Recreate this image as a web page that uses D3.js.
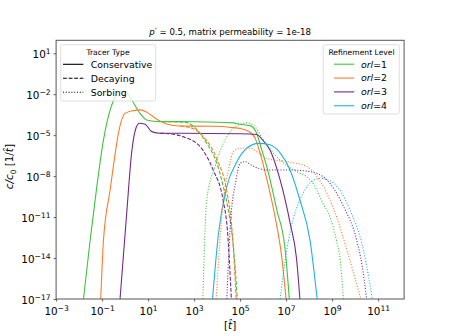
<!DOCTYPE html>
<html>
<head>
<meta charset="utf-8">
<script src="https://cdn.jsdelivr.net/npm/d3@7"></script>
<style>
  body { margin: 0; background: #fff; }
  svg, svg text { font-family: "DejaVu Sans", sans-serif; }
</style>
</head>
<body>
<div id="chart"></div>
<script>
// values, as [log10 t, log10 c/c0]
var greenCons = [[-1.81,-17],[-1.52,-12.7],[-1.23,-8.77],[-0.94,-5.35],[-0.65,-3.15],[-0.43,-2.18],[-0.29,-1.81],[0,-1.81],[0.29,-2.42],[0.65,-3.4],[0.94,-3.89],[1.38,-4.0],[3.0,-4.02],[4.7,-4.1],[5.0,-4.2],[5.43,-4.3],[5.72,-4.86],[5.94,-6.08],[6.16,-7.3],[6.6,-10.5],[6.96,-13.4],[7.14,-17]];
var orangeCons = [[-1.06,-17],[-0.94,-12.7],[-0.65,-9.0],[-0.43,-6.33],[-0.29,-4.86],[0,-3.4],[0.36,-3.2],[0.65,-3.15],[0.94,-3.32],[1.38,-3.83],[1.81,-4.18],[2.39,-4.33],[4.0,-4.35],[4.7,-4.45],[5.0,-4.5],[5.4,-4.75],[5.65,-5.2],[5.9,-6.5],[6.2,-8.5],[6.5,-10.8],[6.8,-13.8],[7.0,-17]];
var purpleCons = [[-0.22,-17],[0.07,-10.7],[0.29,-6.2],[0.45,-4.6],[0.62,-4.13],[0.87,-4.2],[1.16,-4.74],[1.52,-4.86],[2.39,-4.86],[5.0,-4.9],[5.72,-4.95],[6.0,-5.4],[6.3,-6.08],[6.74,-8.28],[7.17,-11.4],[7.45,-14],[7.6,-17]];
var blueCons = [[3.8,-17],[4.06,-12.2],[4.42,-8.77],[4.86,-6.94],[5.29,-5.96],[5.8,-5.6],[6.3,-5.7],[6.74,-6.3],[7.17,-7.55],[7.6,-9.75],[8.04,-12.7],[8.35,-17]];

var greenDecay = [[1.38,-4.0],[2.6,-4.05],[3.0,-4.4],[3.55,-5.6],[3.99,-7.06],[4.27,-8.77],[4.49,-10.5],[4.7,-13],[4.88,-17]];
var orangeDecay = [[2.39,-4.33],[2.7,-4.4],[3.0,-4.55],[3.4,-5.1],[4.0,-6.8],[4.43,-9.2],[4.65,-12],[4.83,-17]];
var purpleDecay = [[1.52,-4.86],[1.96,-4.9],[2.5,-5.1],[3.26,-5.84],[3.83,-7.55],[4.26,-9.75],[4.45,-12],[4.62,-17]];

var greenSorb = [[3.38,-17],[3.55,-9.75],[3.91,-7.3],[4.27,-5.6],[4.71,-4.5],[5.0,-4.2],[5.3,-4.1],[5.6,-4.3],[6.0,-5.3],[6.5,-6.4],[7.0,-7.2],[7.5,-7.7],[8.0,-8.2],[8.2,-8.6],[8.6,-10],[8.91,-11],[9.2,-12.8],[9.35,-14.1],[9.49,-17]];
var orangeSorb = [[3.96,-17],[4.27,-9.75],[4.5,-7.5],[4.71,-6.2],[5.0,-5.96],[5.43,-5.96],[5.8,-6.3],[6.16,-6.7],[7.03,-6.94],[7.9,-7.3],[8.62,-8.77],[9.2,-11],[9.64,-13.4],[10.0,-15.5],[10.25,-17]];
var purpleSorb = [[4.42,-17],[4.6,-11],[4.8,-8.5],[5.0,-7.06],[5.22,-6.94],[5.5,-7.2],[5.8,-7.43],[6.16,-7.55],[7.17,-7.55],[8.04,-7.67],[8.77,-8.28],[9.49,-10.2],[10.07,-12.7],[10.3,-14.5],[10.5,-17]];
var blueSorb = [[6.74,-17],[7.03,-13.4],[7.3,-11.2],[7.6,-9.75],[8.04,-8.5],[8.48,-8.16],[9.06,-8.5],[9.78,-10.5],[10.36,-13.4],[10.6,-15.5],[10.75,-17]];

var xTickExps = [-3,-1,1,3,5,7,9,11];
var yTickExps = [-17,-14,-11,-8,-5,-2,1];
var tracerLabels = ["Conservative","Decaying","Sorbing"];
var levelLabels = ["1","2","3","4"];
var levelColors = ["#3ec43a","#ff7a26","#74288a","#1fb2e2"];

var W = 449, H = 336;
var L = 56.1, R = 404.1, T = 40.3, B = 299;

var svg = d3.select("#chart").append("svg").attr("width", W).attr("height", H);

var x = d3.scaleLog().domain([1e-3, Math.pow(10, 12.13)]).range([L, R]);
var y = d3.scaleLog().domain([1e-17, Math.pow(10, 1.95)]).range([B, T]);

svg.append("clipPath").attr("id", "clip").append("rect")
  .attr("x", L).attr("y", T).attr("width", R - L).attr("height", B - T);

var dashes = { solid: null, dashed: "3.9,1.7", dotted: "1.05,1.75" };
var series = [
  [greenCons, 0, "solid"], [orangeCons, 1, "solid"], [purpleCons, 2, "solid"], [blueCons, 3, "solid"],
  [greenDecay, 0, "dashed"], [orangeDecay, 1, "dashed"], [purpleDecay, 2, "dashed"],
  [greenSorb, 0, "dotted"], [orangeSorb, 1, "dotted"], [purpleSorb, 2, "dotted"], [blueSorb, 3, "dotted"]
];

var line = d3.line()
  .x(function(d) { return x(Math.pow(10, d[0])); })
  .y(function(d) { return y(Math.pow(10, d[1] < -17.5 ? -17.5 : d[1])); })
  .curve(d3.curveMonotoneX);

var plot = svg.append("g").attr("clip-path", "url(#clip)");
series.forEach(function(s) {
  plot.append("path")
    .attr("d", line(s[0]))
    .attr("fill", "none")
    .attr("stroke", levelColors[s[1]])
    .attr("stroke-width", 1.1)
    .attr("stroke-dasharray", dashes[s[2]]);
});

// axes
function supLabel(sel, e) {
  sel.text(null);
  sel.append("tspan").text("10");
  sel.append("tspan").attr("dy", -4.6).attr("font-size", 7.6).text(e < 0 ? "\u2212" + (-e) : e);
}

var xAxis = svg.append("g").attr("transform", "translate(0," + B + ")")
  .call(d3.axisBottom(x).tickValues(xTickExps.map(function(e) { return Math.pow(10, e); }))
    .tickSize(2.5).tickPadding(3).tickFormat(function() { return ""; }));
xAxis.attr("font-family", null);
xAxis.selectAll(".tick text").each(function(d, i) {
  d3.select(this).attr("font-size", 10.4).attr("fill", "#000").attr("dy", "1.05em")
    .call(supLabel, xTickExps[i]);
});

var yAxis = svg.append("g").attr("transform", "translate(" + L + ",0)")
  .call(d3.axisLeft(y).tickValues(yTickExps.map(function(e) { return Math.pow(10, e); }))
    .tickSize(2.5).tickPadding(3).tickFormat(function() { return ""; }));
yAxis.attr("font-family", null);
yAxis.selectAll(".tick text").each(function(d, i) {
  d3.select(this).attr("font-size", 10.4).attr("fill", "#000").attr("dy", "0.45em")
    .call(supLabel, yTickExps[i]);
});
svg.selectAll(".domain").remove();
svg.selectAll(".tick line").attr("stroke", "#333").attr("stroke-width", 0.8);

svg.append("rect").attr("x", L).attr("y", T).attr("width", R - L).attr("height", B - T)
  .attr("fill", "none").attr("stroke", "#555").attr("stroke-width", 1);

// title and labels
var title = svg.append("text").attr("x", (L + R) / 2).attr("y", 34.5)
  .attr("text-anchor", "middle").attr("font-size", 8.6);
title.append("tspan").attr("font-style", "italic").text("p");
title.append("tspan").text("\u2032 = 0.5, matrix permeability = 1e-18");

var xl = svg.append("text").attr("x", (L + R) / 2).attr("y", 329)
  .attr("text-anchor", "middle").attr("font-size", 10.4);
xl.append("tspan").text("[");
xl.append("tspan").attr("font-style", "italic").text("t\u0302");
xl.append("tspan").text("]");

var yl = svg.append("text").attr("transform", "translate(13," + ((T + B) / 2 - 3) + ") rotate(-90)")
  .attr("text-anchor", "middle").attr("font-size", 10.4);
yl.append("tspan").attr("font-style", "italic").text("c/c");
yl.append("tspan").attr("font-size", 7.4).attr("dy", 2.6).text("0");
yl.append("tspan").attr("dy", -2.6).text(" [1/");
yl.append("tspan").attr("font-style", "italic").text("t\u0302");
yl.append("tspan").text("]");

// legend: tracer type
var lg1 = svg.append("g");
lg1.append("rect").attr("x", 60.7).attr("y", 44.7).attr("width", 95).attr("height", 56.3)
  .attr("rx", 2).attr("fill", "#fff").attr("fill-opacity", 0.8).attr("stroke", "#d6d6d6").attr("stroke-width", 0.8);
lg1.append("text").attr("x", 108).attr("y", 55).attr("text-anchor", "middle").attr("font-size", 7.6).text("Tracer Type");
["solid","dashed","dotted"].forEach(function(k, i) {
  var yy = 64.3 + i * 14;
  lg1.append("line").attr("x1", 63).attr("x2", 83.3).attr("y1", yy).attr("y2", yy)
    .attr("stroke", "#000").attr("stroke-width", 1.1).attr("stroke-dasharray", dashes[k]);
  lg1.append("text").attr("x", 90.7).attr("y", yy + 3.4).attr("font-size", 9.4).text(tracerLabels[i]);
});

// legend: refinement level
var lg2 = svg.append("g");
lg2.append("rect").attr("x", 323.3).attr("y", 44.7).attr("width", 76).attr("height", 69.3)
  .attr("rx", 2).attr("fill", "#fff").attr("fill-opacity", 0.8).attr("stroke", "#d6d6d6").attr("stroke-width", 0.8);
lg2.append("text").attr("x", 361.5).attr("y", 55).attr("text-anchor", "middle").attr("font-size", 7.6).text("Refinement Level");
levelLabels.forEach(function(v, i) {
  var yy = 64.2 + i * 13.85;
  lg2.append("line").attr("x1", 334).attr("x2", 354.3).attr("y1", yy).attr("y2", yy)
    .attr("stroke", levelColors[i]).attr("stroke-width", 1.1);
  var t = lg2.append("text").attr("x", 361).attr("y", yy + 3.4).attr("font-size", 9.4);
  t.append("tspan").attr("font-style", "italic").text("orl");
  t.append("tspan").text("=" + v);
});
</script>
</body>
</html>
